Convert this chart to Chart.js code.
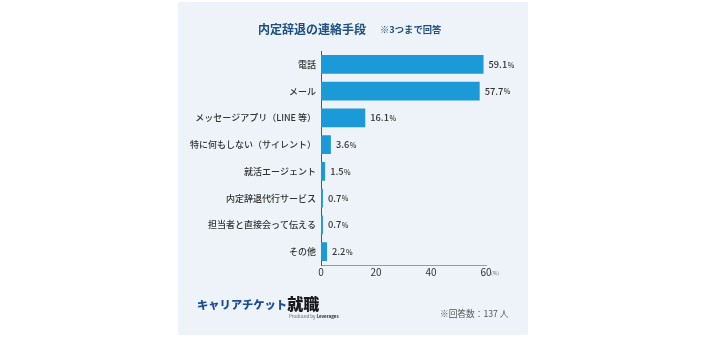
<!DOCTYPE html>
<html><head><meta charset="utf-8">
<script src="https://cdn.jsdelivr.net/npm/chart.js@4"></script>
<style>
html,body{margin:0;padding:0;background:#fff;width:704px;height:344px;overflow:hidden;font-family:"Noto Sans CJK JP","Noto Sans",sans-serif;}
#panel{position:absolute;left:178px;top:2px;width:350px;height:333px;background:#eef3fa;}
#wrap{position:absolute;left:0;top:0;width:704px;height:344px;}
.t{position:absolute;white-space:nowrap;}
</style></head><body>
<div id="panel"></div>
<div id="wrap"><canvas id="c" width="704" height="344"></canvas></div>
<div class="t" style="left:258px;top:20px;font-size:12px;font-weight:700;color:#1d4f82;line-height:18px;">内定辞退の連絡手段</div>
<div class="t" style="left:380px;top:22px;font-size:9.3px;font-weight:700;color:#1d4f82;line-height:14px;">※3つまで回答</div>
<div class="t" style="left:197px;top:293px;font-size:11.3px;font-weight:900;color:#1c4d95;line-height:20px;">キャリアチケット<span style="color:#1a1a1a;font-size:16px;vertical-align:-1px;">就職</span></div>
<div class="t" style="left:289px;top:314px;font-size:4.5px;color:#666;line-height:5px;">Produced by <b style="color:#333">Leverages</b></div>
<div class="t" style="left:440px;top:307px;font-size:8.7px;color:#555;line-height:14px;">※回答数：137 人</div>
<script>
const categories = ["電話","メール","メッセージアプリ（LINE 等）","特に何もしない（サイレント）","就活エージェント","内定辞退代行サービス","担当者と直接会って伝える","その他"];
const values = [59.1, 57.7, 16.1, 3.6, 1.5, 0.7, 0.7, 2.2];
const tickValues = [0, 20, 40, 60];

const FONT = '"Noto Sans CJK JP", "Noto Sans", sans-serif';
const valueLabels = {
  id: 'valueLabels',
  afterDatasetsDraw(chart) {
    const ctx = chart.ctx;
    const meta = chart.getDatasetMeta(0);
    ctx.save();
    ctx.textBaseline = 'middle';
    ctx.fillStyle = '#333';
    meta.data.forEach((bar, i) => {
      const num = values[i].toFixed(1);
      let x = bar.x + 5;
      ctx.font = '500 9.3px ' + FONT;
      ctx.fillText(num, x, bar.y);
      const w = ctx.measureText(num).width;
      ctx.font = '500 7px ' + FONT;
      ctx.fillText('%', x + w + 0.5, bar.y + 0.5);
    });
    const xs = chart.scales.x;
    ctx.font = '5px ' + FONT;
    ctx.fillStyle = '#666';
    ctx.fillText('(%)', xs.getPixelForValue(60) + 5, xs.top + 8);
    ctx.restore();
  }
};

new Chart(document.getElementById('c'), {
  type: 'bar',
  data: {
    labels: categories,
    datasets: [{ data: values, backgroundColor: '#1b9ad7', borderWidth: 0, categoryPercentage: 0.7, barPercentage: 1.0 }]
  },
  options: {
    indexAxis: 'y',
    responsive: false,
    animation: false,
    devicePixelRatio: 1,
    layout: { padding: { left: 178, right: 218, top: 51, bottom: 0 } },
    plugins: { legend: { display: false }, tooltip: { enabled: false }, title: { display: false } },
    scales: {
      x: {
        min: 0, max: 60,
        afterBuildTicks(s) { s.ticks = tickValues.map(v => ({ value: v })); },
        afterFit(s) { s.height = 344 - 265; },
        grid: { display: false, drawTicks: false },
        border: { display: true, color: '#9a9a9a', width: 1 },
        ticks: { color: '#333', padding: 1, font: { size: 10, family: FONT } }
      },
      y: {
        afterFit(s) { s.width = 321 - 178; },
        grid: { display: false, drawTicks: false },
        border: { display: true, color: '#555', width: 1 },
        ticks: { color: '#333', padding: 5, font: { size: 9, weight: '500', family: FONT } }
      }
    }
  },
  plugins: [valueLabels]
});
</script>
</body></html>
